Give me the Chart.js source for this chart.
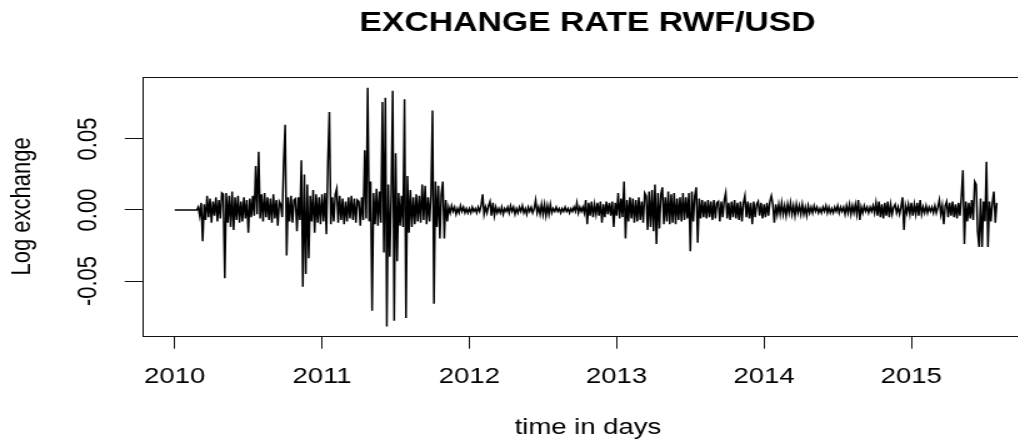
<!DOCTYPE html>
<html>
<head>
<meta charset="utf-8">
<title>EXCHANGE RATE RWF/USD</title>
<script src="https://cdn.jsdelivr.net/npm/chart.js@4/dist/chart.umd.min.js"></script>
<style>
  html, body { margin: 0; padding: 0; background: #fff; overflow: hidden; width: 1018px; height: 446px; }
  /* the plot is laid out narrow and widened horizontally, like the stretched R device output */
  #wrap { position: absolute; left: 0; top: 0; width: 940px; height: 446px; transform: scaleX(1.25); transform-origin: 0 0; }
  canvas { display: block; }
</style>
</head>
<body>
<div id="wrap"><canvas id="chart" width="940" height="446"></canvas></div>
<script>
// Daily log changes of the RWF/USD rate, 100 samples per year starting 2010.00
const r2010 = [
  0, 0, 0, 0, 0, 0, 0, 0, 0, 0,
  0, 0, 0, 0, 0, 0, .002, -.004, .005, -.022,
  .004, -.007, .010, -.005, .008, -.009, .006, -.004, .009, -.008,
  .007, -.006, .012, .011, -.048, .012, -.009, .010, -.012, .013,
  -.014, .009, -.007, .010, -.009, .006, -.008, .009, -.006, .007,
  -.016, .008, -.005, .010, -.004, .031, -.003, .041, -.006, .011,
  -.008, .012, -.005, .009, -.007, .008, -.009, .011, -.006, .007,
  -.011, .006, .004, -.005, .034, .060, -.032, .009, -.008, .010,
  -.009, .007, .008, -.015, .009, -.007, .035, -.054, .025, -.045,
  .018, -.034, .010, -.008, .014, -.016, .011, -.009, .009, -.010
];
const r2011 = [
  .011, -.008, .012, -.017, .034, .069, -.010, .009, -.008, .011,
  .015, -.009, .010, -.007, .008, -.010, .006, -.008, .009, -.006,
  .010, -.007, .008, -.009, .007, .006, -.011, .009, -.007, .042,
  -.006, .086, -.008, .020, -.071, .012, -.010, .015, -.011, .013,
  -.009, .076, -.030, .079, -.082, .018, -.033, .012, .084, -.078,
  .040, -.036, .012, -.011, .010, -.012, .078, -.076, .024, -.016,
  .014, -.012, .009, -.010, .011, -.008, .010, -.009, .018, -.007,
  .017, -.010, .009, -.008, .011, .070, -.066, .020, -.012, .017,
  -.020, .011, .020, -.020, .007, -.008, .002, -.002, .003, -.001,
  .002, -.003, .001, -.002, .003, -.001, .002, -.002, .001, -.002
];
const r2012 = [
  .001, -.002, .002, -.001, .001, -.002, .002, -.001, .003, .011,
  -.003, .002, -.002, .003, .006, -.004, .005, -.004, .002, -.002,
  .001, -.002, .002, -.003, .001, -.001, .002, -.002, .003, -.001,
  .002, -.003, .001, -.002, .002, -.001, .003, -.002, .001, -.003,
  .002, -.001, .002, -.002, .001, .007, -.002, .002, -.003, .004,
  -.003, .004, -.004, .003, -.003, .004, -.002, .001, -.001, .002,
  -.001, .001, -.002, .001, -.001, .002, -.001, .001, -.002, .001,
  -.001, .002, -.001, .005, -.002, .002, -.001, .002, -.002, .007,
  -.010, .005, -.004, .006, -.005, .004, -.003, .005, -.004, .006,
  -.009, .004, -.005, .006, -.003, .005, -.004, .006, -.012, .005
];
const r2013 = [
  -.004, .012, -.006, .008, -.005, .020, -.020, .007, -.008, .009,
  -.006, .008, -.009, .007, -.008, .009, -.007, .006, -.009, .012,
  .010, -.014, .013, -.012, .014, -.015, .018, -.024, .012, -.013,
  .011, .016, -.010, .009, -.008, .013, -.010, .011, -.009, .012,
  -.010, .008, -.007, .009, -.008, .012, -.007, .009, -.006, .012,
  -.029, .013, -.008, .010, .016, -.023, .008, -.006, .007, -.005,
  .006, -.006, .007, -.005, .006, -.007, .007, -.006, .005, .006,
  -.008, .006, -.005, .007, .012, -.006, .005, -.007, .006, -.005,
  .007, -.006, .005, -.007, .006, -.008, .005, .010, -.005, .006,
  -.006, .005, -.010, .006, -.005, .004, .006, -.004, .005, -.006
];
const r2014 = [
  .004, -.005, .005, -.004, .006, .010, .004, -.009, .004, -.003,
  .004, -.003, .005, -.003, .003, -.004, .004, -.002, .005, -.003,
  .003, -.004, .004, -.002, .003, -.003, .004, -.003, .002, -.004,
  .003, -.002, .002, -.002, .003, -.001, .002, -.002, .001, -.002,
  .002, -.001, .003, -.002, .002, -.002, .001, -.002, .002, -.001,
  .003, -.002, .002, -.001, .002, -.003, .003, -.002, .004, -.003,
  .003, -.002, .004, -.003, .007, -.007, .002, -.002, .003, -.001,
  .002, -.002, .002, -.001, .003, -.002, .005, -.004, .006, -.005,
  .004, -.006, .005, -.004, .006, -.005, .004, -.003, .002, .004,
  -.002, .002, -.003, .002, .009, -.014, .003, -.002, .004, -.003
];
const r2015 = [
  .005, -.004, .004, -.003, .005, -.004, .007, -.003, .002, -.002,
  .003, -.002, .002, -.001, .002, -.002, .003, -.002, .002, .007,
  -.003, .003, -.010, .003, .006, -.005, .005, -.004, .006, -.005,
  .004, -.006, .005, -.004, .010, .028, -.024, .006, -.008, .005,
  -.006, .007, -.007, .020, .018, -.015, -.026, .008, -.026, .006,
  -.008, .034, -.026, .006, -.008, .005, .013, -.009, .005
];

const startYear = 2010;
const samplesPerYear = 100;
const xTicks = [2010, 2011, 2012, 2013, 2014, 2015];
const yTicks = [-0.05, 0, 0.05];

const FONT = "'Liberation Sans', Arial, Helvetica, sans-serif";

const values = [r2010, r2011, r2012, r2013, r2014, r2015].flat();
const points = values.map((v, i) => ({ x: startYear + i / samplesPerYear, y: v }));

// full box around the plotting region
const frame = {
  id: 'frame',
  afterDatasetsDraw(chart) {
    const { ctx, chartArea: a } = chart;
    ctx.save();
    ctx.strokeStyle = '#111';
    ctx.lineWidth = 1;
    ctx.strokeRect(Math.round(a.left) + 0.5, Math.round(a.top) + 0.5,
                   Math.round(a.right - a.left), Math.round(a.bottom - a.top));
    ctx.restore();
  }
};

new Chart(document.getElementById('chart'), {
  type: 'line',
  data: {
    datasets: [{
      data: points,
      borderColor: '#000',
      borderWidth: 1.5,
      pointRadius: 0,
      tension: 0,
      fill: false
    }]
  },
  options: {
    responsive: false,
    devicePixelRatio: 1,
    animation: false,
    layout: { padding: 0 },
    plugins: {
      legend: { display: false },
      tooltip: { enabled: false },
      title: {
        display: true,
        text: 'EXCHANGE RATE RWF/USD',
        color: '#000',
        font: { family: FONT, size: 27, weight: 'bold' },
        padding: { top: 7.8, bottom: 36.8 }
      }
    },
    scales: {
      x: {
        type: 'linear',
        min: 2009.78,
        max: 2015.83,
        afterBuildTicks: s => { s.ticks = xTicks.map(v => ({ value: v })); },
        afterFit: s => { s.height = 110.3; },
        grid: { display: true, drawOnChartArea: false, drawTicks: true, tickLength: 13, color: '#111', lineWidth: 1 },
        border: { display: false },
        ticks: {
          color: '#000',
          font: { family: FONT, size: 22 },
          padding: 14.6,
          maxRotation: 0,
          autoSkip: false,
          callback: v => String(v)
        },
        title: {
          display: true,
          text: 'time in days',
          color: '#000',
          font: { family: FONT, size: 22 },
          padding: { top: 0, bottom: 4.8 }
        }
      },
      y: {
        type: 'linear',
        min: -0.08852,
        max: 0.09366,
        afterBuildTicks: s => { s.ticks = yTicks.map(v => ({ value: v })); },
        afterFit: s => { s.width = 113.8; },
        grid: { display: true, drawOnChartArea: false, drawTicks: true, tickLength: 14, color: '#111', lineWidth: 1 },
        border: { display: false },
        ticks: {
          color: '#000',
          font: { family: FONT, size: 22 },
          padding: 3.5,
          minRotation: 90,
          maxRotation: 90,
          crossAlign: 'center',
          autoSkip: false,
          callback: v => v.toFixed(2)
        },
        title: {
          display: true,
          text: 'Log exchange',
          color: '#000',
          font: { family: FONT, size: 22 },
          padding: { top: 4.8, bottom: 0 }
        }
      },
      // empty right margin so the title centres over the plotting region
      margin: {
        type: 'linear',
        position: 'right',
        afterFit: s => { s.width = 113.1; },
        grid: { display: false },
        border: { display: false },
        ticks: { display: false }
      }
    }
  },
  plugins: [frame]
});
</script>
</body>
</html>
